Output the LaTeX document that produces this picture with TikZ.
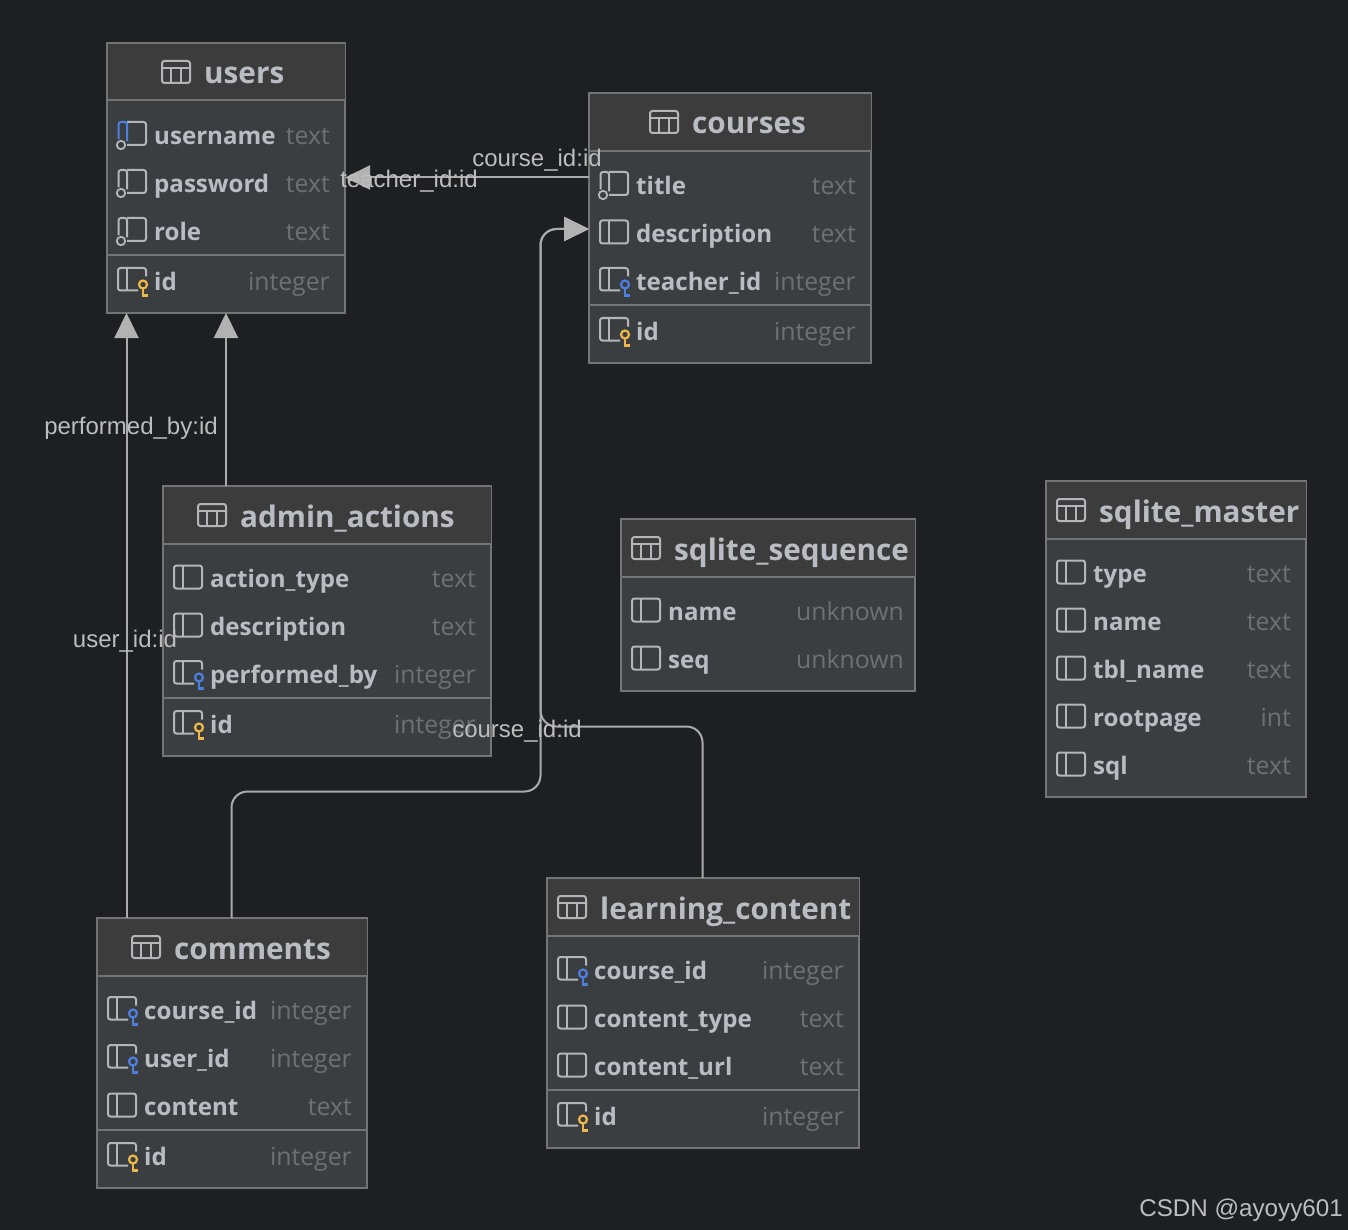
\documentclass[tikz,border=0pt]{standalone}
\usepackage{fontspec}
\setmainfont{Open Sans}
\newfontfamily\lblfont{Liberation Sans}
\usetikzlibrary{arrows.meta}
\definecolor{bgc}{HTML}{1E1F22}
\definecolor{boxc}{HTML}{3B3E41}
\definecolor{headc}{HTML}{3C3C3C}
\definecolor{edgec}{HTML}{737476}
\definecolor{txtc}{HTML}{B9BDC3}
\definecolor{typec}{HTML}{6D7174}
\definecolor{linec}{HTML}{ABABAB}
\definecolor{tipc}{HTML}{B2B2B2}
\definecolor{lblc}{HTML}{BDBDBD}
\definecolor{icoc}{HTML}{B4B6B9}
\definecolor{bluec}{HTML}{4C7FE0}
\definecolor{yelc}{HTML}{EDB74A}
\tikzset{
  x=1pt,y=-1pt,
  dbbox/.style={draw=edgec,line width=1.6pt,fill=boxc,rectangle,anchor=north west,inner sep=0,outer sep=0},
  septr/.style={draw=edgec,line width=2pt},
  titletxt/.style={anchor=base west,inner sep=0,text=txtc,font=\fontsize{29.7}{31}\selectfont\bfseries},
  colname/.style={anchor=base west,inner sep=0,text=txtc,font=\fontsize{24.1}{26}\selectfont\bfseries},
  coltype/.style={anchor=base east,inner sep=0,text=typec,font=\fontsize{24.8}{26}\selectfont},
  conn/.style={draw=linec,line width=2pt,rounded corners=16pt},
  connarrow/.style={conn,-{Triangle[length=25pt,width=24pt,color=tipc,fill=tipc]}},
  lbl/.style={anchor=base,inner sep=0,text=lblc,font=\lblfont\fontsize{24}{24}\selectfont},
  ico/.style={draw=icoc,line width=2pt,rounded corners=2.5pt},
}
% #1 name #2 x #3 y #4 width #5 height #6 header bottom #7 separator y or empty
\newcommand{\dbtable}[7]{%
  \node[dbbox,minimum width=#4pt,minimum height=#5pt] (#1) at (#2,#3) {};
  \fill[headc] ([shift={(1,1)}]#1.north west) rectangle (#1.east |- 0,#6);
  \draw[septr] (#1.west |- 0,#6) -- (#1.east |- 0,#6);
  \ifx\relax#7\relax\else\draw[septr] (#1.west |- 0,#7) -- (#1.east |- 0,#7);\fi
}
% #1 node name #2 icon x #3 y #4 text
\newcommand{\dbtitle}[4]{%
  \begin{scope}[shift={(#2,#3)}]
    \draw[ico] (0,-11) rectangle (28,11);
    \draw[icoc,line width=2pt] (0,-4) -- (28,-4) (9.3,-4) -- (9.3,11) (18.7,-4) -- (18.7,11);
  \end{scope}
  \node[titletxt] (#1) at (#2+42,#3+12) {#4};
}
\newcommand{\icoplain}[2]{\begin{scope}[shift={(#1,#2-1)}]
  \draw[ico] (0,-11.5) rectangle (28,11.5);
  \draw[icoc,line width=2pt] (9,-11.5) -- (9,11.5);
\end{scope}}
\newcommand{\iconn}[3]{\begin{scope}[shift={(#1,#2-1.5)}]
  \draw[ico] (9,11.5) -- (28,11.5) -- (28,-11.5) -- (9,-11.5);
  \draw[ico,#3] (0.5,6) -- (0.5,-11.5) -- (9,-11.5) -- (9,8);
  \draw[icoc,line width=1.8pt,fill=boxc] (3,11.5) circle (4.2);
\end{scope}}
\newcommand{\icokey}[3]{\begin{scope}[shift={(#1,#2-1.5)}]
  \draw[ico] (20,11) -- (0,11) -- (0,-11.5) -- (28,-11.5) -- (28,-3);
  \draw[icoc,line width=2pt] (9,-11.5) -- (9,11);
  \draw[#3,line width=2.2pt] (25,5) circle (4);
  \draw[#3,line width=2.2pt] (25,9) -- (25,16) -- (30,16);
\end{scope}}
% #1 node name #2 icon code #3 text x #4 y #5 name #6 type #7 right x
\newcommand{\dbcol}[7]{%
  #2
  \node[colname] (#1n) at (#3,#4+8.2) {#5};
  \node[coltype] (#1t) at (#7,#4+8.2) {#6};
}
\begin{document}
\begin{tikzpicture}
\useasboundingbox (0,0) rectangle (1348,1230);
\fill[bgc] (0,0) rectangle (1348,1230);

% tables
\dbtable{users}{107}{43}{238}{270}{100.5}{255}
\dbtable{courses}{589}{93}{282}{270}{151}{305}
\dbtable{admin}{163}{486}{328}{270}{544}{698}
\dbtable{seq}{621}{519}{294}{172}{577}{}
\dbtable{master}{1046}{481}{260}{316}{539}{}
\dbtable{comments}{97}{918}{270}{270}{976}{1130}
\dbtable{content}{547}{878}{312}{270}{936}{1090}

% connectors
\draw[connarrow] (courses.west |- 0,177.5) -- (users.east |- 0,177.5);
\draw[connarrow] (comments.north -| 126.5,0) -- (users.south -| 126.5,0);
\draw[connarrow] (admin.north -| 226,0) -- (users.south -| 226,0);
\draw[connarrow] (comments.north -| 231.5,0) -- (231.5,791.5) -- (540.5,791.5) -- (540.5,229) -- (courses.west |- 0,229);
\draw[connarrow] (content.north -| 702.5,0) -- (702.5,726.5) -- (540.5,726.5) -- (540.5,229) -- (courses.west |- 0,229);

\dbtitle{usersT}{162}{72}{users}
\dbcol{ua}{\iconn{118}{135}{draw=bluec}}{154}{136}{username}{text}{330}
\dbcol{ub}{\iconn{118}{183}{}}{154}{184}{password}{text}{330}
\dbcol{uc}{\iconn{118}{231}{}}{154}{232}{role}{text}{330}
\dbcol{ud}{\icokey{118}{281}{yelc}}{154}{282}{id}{integer}{330}

\dbtitle{coursesT}{650}{122}{courses}
\dbcol{ca}{\iconn{600}{185}{}}{636}{186}{title}{text}{856}
\dbcol{cb}{\icoplain{600}{233}}{636}{234}{description}{text}{856}
\dbcol{cc}{\icokey{600}{281}{bluec}}{636}{282}{teacher\_id}{integer}{856}
\dbcol{cd}{\icokey{600}{331}{yelc}}{636}{332}{id}{integer}{856}

\dbtitle{adminT}{198}{515}{admin\_actions}
\dbcol{aa}{\icoplain{174}{578}}{210}{579}{action\_type}{text}{476}
\dbcol{ab}{\icoplain{174}{626}}{210}{627}{description}{text}{476}
\dbcol{ac}{\icokey{174}{674}{bluec}}{210}{675}{performed\_by}{integer}{476}
\dbcol{ad}{\icokey{174}{724}{yelc}}{210}{725}{id}{integer}{476}

\dbtitle{seqT}{632}{548}{sqlite\_sequence}
\dbcol{sa}{\icoplain{632}{611}}{668}{612}{name}{unknown}{904}
\dbcol{sb}{\icoplain{632}{659}}{668}{660}{seq}{unknown}{904}

\dbtitle{masterT}{1057}{510}{sqlite\_master}
\dbcol{ma}{\icoplain{1057}{573}}{1093}{574}{type}{text}{1291}
\dbcol{mb}{\icoplain{1057}{621}}{1093}{622}{name}{text}{1291}
\dbcol{mc}{\icoplain{1057}{669}}{1093}{670}{tbl\_name}{text}{1291}
\dbcol{md}{\icoplain{1057}{717}}{1093}{718}{rootpage}{int}{1291}
\dbcol{me}{\icoplain{1057}{765}}{1093}{766}{sql}{text}{1291}

\dbtitle{commentsT}{132}{947}{comments}
\dbcol{oa}{\icokey{108}{1010}{bluec}}{144}{1011}{course\_id}{integer}{352}
\dbcol{ob}{\icokey{108}{1058}{bluec}}{144}{1059}{user\_id}{integer}{352}
\dbcol{oc}{\icoplain{108}{1106}}{144}{1107}{content}{text}{352}
\dbcol{od}{\icokey{108}{1156}{yelc}}{144}{1157}{id}{integer}{352}

\dbtitle{contentT}{558}{907}{learning\_content}
\dbcol{la}{\icokey{558}{970}{bluec}}{594}{971}{course\_id}{integer}{844}
\dbcol{lb}{\icoplain{558}{1018}}{594}{1019}{content\_type}{text}{844}
\dbcol{lc}{\icoplain{558}{1066}}{594}{1067}{content\_url}{text}{844}
\dbcol{ld}{\icokey{558}{1116}{yelc}}{594}{1117}{id}{integer}{844}

% labels
\node[lbl] (l1) at (537,166.5) {course\_id:id};
\node[lbl] (l2) at (409,188) {teacher\_id:id};
\node[lbl] (l3) at (131,434) {performed\_by:id};
\node[lbl] (l4) at (125,647) {user\_id:id};
\node[lbl] (l5) at (517,737) {course\_id:id};
\node[anchor=base east,inner sep=0,text=lblc,font=\lblfont\fontsize{24.2}{26}\selectfont] (wm) at (1343,1216) {CSDN @ayoyy601};
\end{tikzpicture}
\end{document}
